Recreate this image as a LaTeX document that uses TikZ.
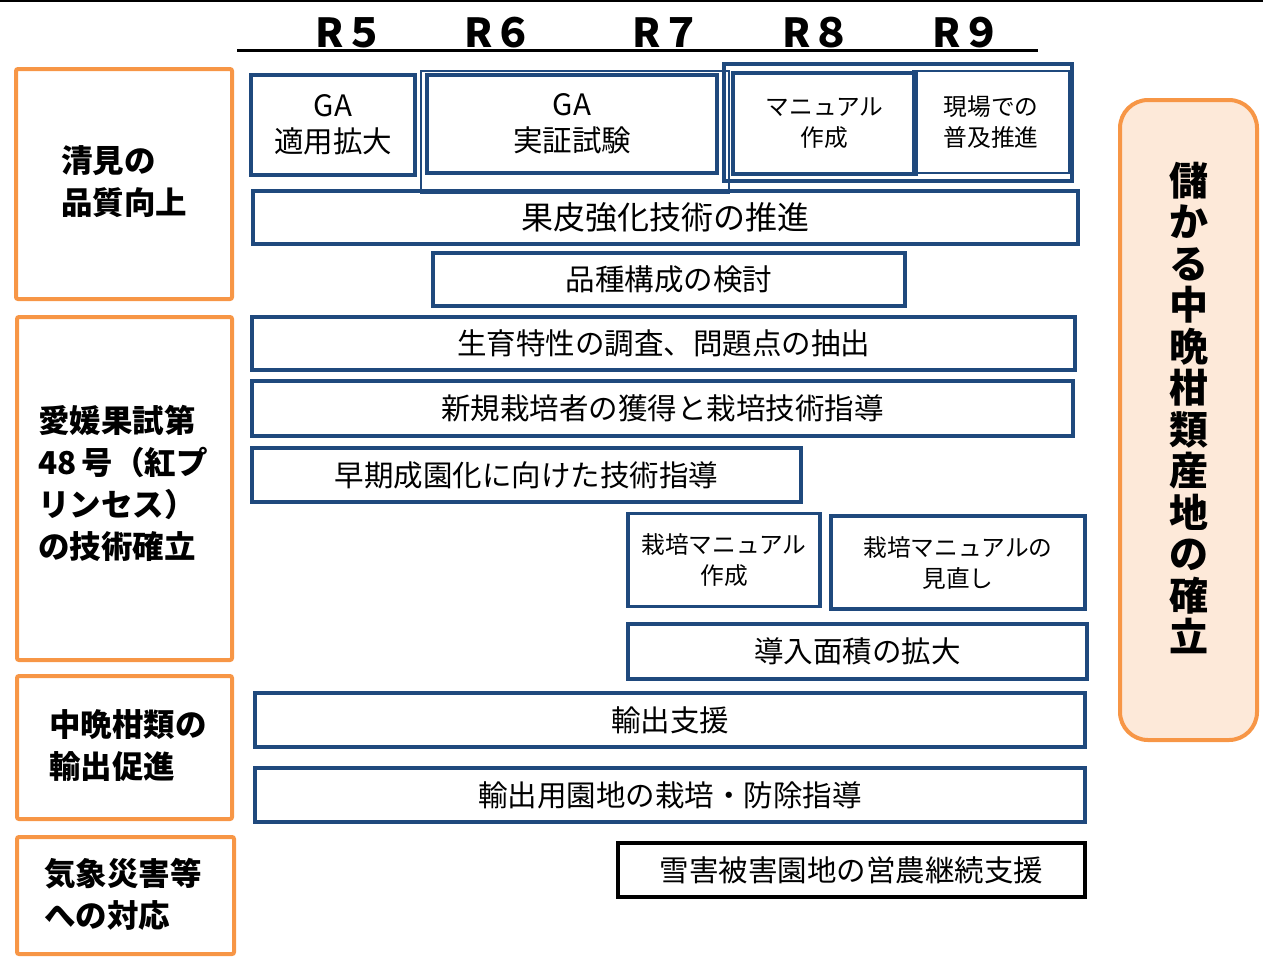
\documentclass[tikz,border=0pt]{standalone}
\usepackage{xcolor}
\usepackage{fontspec}
\usepackage{tikz}
\usetikzlibrary{positioning}
\newfontfamily\jpfont{Noto Sans CJK JP}
\definecolor{planblue}{HTML}{1F497D}
\definecolor{themeorange}{HTML}{F79646}
\definecolor{goalfill}{HTML}{FDE9D9}
\tikzstyle{plan} = [rectangle, draw=planblue, line width=3.5pt, inner sep=0pt, align=center, font=\jpfont\fontsize{29.5}{36}\selectfont]
\tikzstyle{small} = [font=\jpfont\fontsize{23.7}{31}\selectfont]
\tikzstyle{theme} = [rectangle, draw=themeorange, line width=4pt, rounded corners=2pt, inner sep=0pt, align=left, font=\jpfont\bfseries\fontsize{31.5}{42}\selectfont]
\tikzstyle{year} = [inner sep=0pt, font=\jpfont\bfseries\fontsize{40}{40}\selectfont]

\begin{document}
\begin{tikzpicture}[x=1pt, y=-1pt]
\useasboundingbox (0,0) rectangle (1263,978);
% header
\draw [line width=2pt] (0,1) -- (1263,1);
\coordinate (hl) at (237,50);
\coordinate (hr) at (1038,50);
\draw [line width=3pt] (hl) -- (hr);
\node [year] (R5) at (350,33) {R５};
\node [year] (R6) at (499,33) {R６};
\node [year] (R7) at (667,33) {R７};
\node [year] (R8) at (817,33) {R８};
\node [year] (R9) at (967,33) {R９};
% themes
\node [theme, minimum width=216pt, minimum height=230pt] (kiyomi) at (124,184) {};
\node [theme, draw=none, anchor=north west] (kiyomitext) at (59,144) {清見の\\品質向上};
\node [theme, minimum width=215pt, minimum height=343pt] (beni) at (124.5,488.5) {};
\node [theme, draw=none, anchor=north west] (benitext) at (36,403) {愛媛果試第\\48\,号（紅プ\\リンセス）\\の技術確立};
\node [theme, minimum width=215pt, minimum height=143pt] (export) at (124.5,747.5) {};
\node [theme, draw=none, anchor=north west] (exporttext) at (47,708) {中晩柑類の\\輸出促進};
\node [theme, minimum width=217pt, minimum height=117pt] (weather) at (125.5,895.5) {};
\node [theme, draw=none, anchor=north west] (weathertext) at (42,856) {気象災害等\\への対応};
\node [theme, fill=goalfill, rounded corners=28pt, minimum width=137pt, minimum height=640pt] (goal) at (1188.5,420) {};
\node [theme, draw=none, align=center, font=\jpfont\bfseries\fontsize{39}{41.5}\selectfont] (goaltext) at (1189,408) {儲\\か\\る\\中\\晩\\柑\\類\\産\\地\\の\\確\\立};
% kiyomi
\node [plan, minimum width=164pt, minimum height=100pt] (GAapply) at (333,125) {GA\\適用拡大};
\node [plan, line width=1.5pt, minimum width=308pt, minimum height=122pt] (GAframe) at (575,132) {};
\node [plan, minimum width=290pt, minimum height=98pt] (GAtest) at (572,124) {GA\\実証試験};
\node [plan, minimum width=348pt, minimum height=117pt] (manframe) at (898,122.5) {};
\node [plan, small, line width=1.5pt, minimum width=156pt, minimum height=102pt] (genba) at (991,122) {現場での\\普及推進};
\node [plan, small, minimum width=183pt, minimum height=101pt] (manual) at (824.5,123.5) {マニュアル\\作成};
\node [plan, minimum width=825pt, minimum height=53pt, font=\jpfont\fontsize{32}{36}\selectfont] (kahi) at (665.5,217.5) {果皮強化技術の推進};
\node [plan, minimum width=472pt, minimum height=53pt] (hinshu) at (669,279.5) {品種構成の検討};
% beni
\node [plan, minimum width=823pt, minimum height=53pt] (seiiku) at (663.5,343.5) {生育特性の調査、問題点の抽出};
\node [plan, minimum width=821pt, minimum height=55pt] (shinki) at (662.5,408.5) {新規栽培者の獲得と栽培技術指導};
\node [plan, minimum width=549pt, minimum height=54pt] (souki) at (526.5,475) {早期成園化に向けた技術指導};
\node [plan, small, minimum width=192pt, minimum height=93pt] (mansaku) at (724,560) {栽培マニュアル\\作成};
\node [plan, small, minimum width=254pt, minimum height=93pt] (manmin) at (958,562.5) {栽培マニュアルの\\見直し};
\node [plan, minimum width=459pt, minimum height=55pt] (dounyu) at (857.5,651.5) {導入面積の拡大};
% export
\node [plan, minimum width=830pt, minimum height=54pt] (yushutsu) at (670,720) {輸出支援};
\node [plan, minimum width=830pt, minimum height=54pt] (yuen) at (670,795) {輸出用園地の栽培・防除指導};
% weather
\node [plan, draw=black, line width=4.5pt, minimum width=467pt, minimum height=54pt] (setsugai) at (851.5,870) {雪害被害園地の営農継続支援};
\end{tikzpicture}
\end{document}
